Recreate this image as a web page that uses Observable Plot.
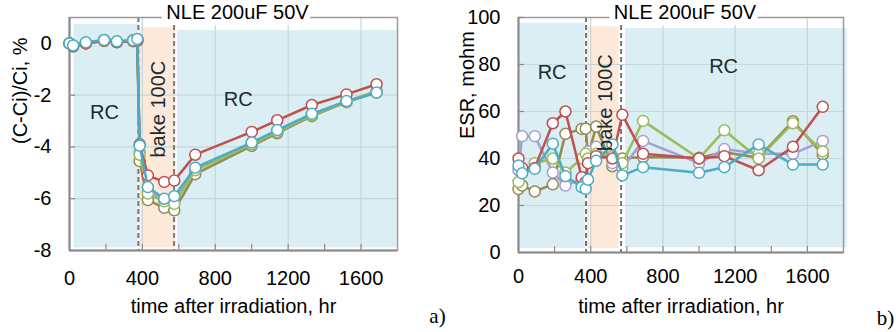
<!DOCTYPE html>
<html><head><meta charset="utf-8">
<script src="https://cdn.jsdelivr.net/npm/d3@7"></script>
<script src="https://cdn.jsdelivr.net/npm/@observablehq/plot@0.6"></script>
<style>
body{margin:0;background:#fff;}
#wrap{display:flex;width:896px;height:332px;overflow:hidden;}
#wrap svg{display:block;}
</style></head><body><div id="wrap"></div>
<script>
// ---- data ----
const hours = [0,20,90,190,260,350,372,385,430,520,575,690,1000,1140,1330,1520,1685];
const seriesNames = ["S1","S2","S3","S4","S5"];
const seriesColors = ["#c0504d","#9bbb59","#a59fd0","#4bacc6","#938953"];
const drawOrder = ["S5","S3","S2","S1","S4"];

// (C-Ci)/Ci, %
const capS1 = [0.0,-0.10,0.00,0.10,0.05,0.10,0.10,-3.90,-5.10,-5.35,-5.30,-4.30,-3.42,-2.97,-2.38,-1.97,-1.58];
const capS2 = [0.0,-0.10,0.02,0.12,0.06,0.12,0.15,-4.30,-5.80,-6.10,-6.20,-4.90,-3.90,-3.42,-2.78,-2.24,-1.85];
const capS3 = [0.0,-0.10,0.02,0.12,0.06,0.12,0.14,-4.20,-5.70,-6.05,-6.10,-4.85,-3.88,-3.40,-2.76,-2.24,-1.86];
const capS4 = [0.0,-0.08,0.04,0.13,0.08,0.12,0.17,-3.95,-5.55,-6.00,-5.90,-4.80,-3.83,-3.35,-2.72,-2.23,-1.90];
const capS5 = [0.0,-0.12,0.00,0.10,0.04,0.08,0.10,-4.55,-6.05,-6.35,-6.45,-5.05,-3.96,-3.47,-2.81,-2.27,-1.90];

// ESR, mohm
const esrS1 = [40,36,36,55,60,32,30,38,41,40,58.6,42,40,41,35,45,62];
const esrS2 = [30,34,38,40,34,40,42,40,42,41,38,56,40,52,40,55,43];
const esrS3 = [35,49.5,49.5,34,28.5,31.5,32,43,45,38,36,47.5,38,44,42,42,47.5];
const esrS4 = [37,33.7,35.6,46.3,32.5,27.8,27.1,31,39,46,32.8,36.3,33.9,36.3,46,37.4,37.4];
const esrS5 = [27,28.5,26,29,50.5,52.6,52.7,41,53.6,36.7,40,40.6,40.3,42.7,40.3,55.9,41.7];

// axes
const xTickLabels = [0,400,800,1200,1600];
const xMinorTicks = [200,400,600,800,1000,1200,1400,1600];
const capTicks = [0,-2,-4,-6,-8];
const capGrid = [-2,-4,-6];
const esrTicks = [0,20,40,60,80,100];
const esrGrid = [20,40,60,80];

// shaded regions: [x1,x2,y1,y2,kind]
const capRegions = [[25,378,-7.9,0.74,"RC"],[385,580,-7.9,0.6,"bake"],[592,1797,-7.9,0.5,"RC"]];
const esrRegions = [[5,370,1.7,97.6,"RC"],[382,558,1.7,96,"bake"],[592,1820,2,95.3,"RC"]];
const capDashes = [378,574];
const esrDashes = [374,568];
// annotations: [text, t, value, rotate]
const capNotes = [["RC",192,-2.69,0],["RC",926,-2.19,0],["bake 100C",488,-2.54,-90]];
const esrNotes = [["RC",186,76.7,0],["RC",1136,78.9,0],["bake 100C",481,63.8,-90]];

const title = "NLE 200uF 50V";
const xLabel = "time after irradiation, hr";

const FONT = "Liberation Sans, Arial, sans-serif";
const regionFill = {RC:"#daeef3", bake:"#fde9d9"};

function panel(o){
  const vals = o.values;
  const W = 448, H = 332, mt = 17;
  const innerW = W - o.ml - o.mr, innerH = H - mt - o.mb;
  const rows = [];
  seriesNames.forEach((s,i)=> vals[i].forEach((v,j)=> rows.push({s, t: hours[j], v})));
  const regions = o.regions.map(([x1,x2,y1,y2,k])=>({x1,x2,y1,y2,k}));
  const notes = o.notes.map(([text,t,v,r])=>({text,t,v,r}));
  const seriesMarks = drawOrder.flatMap(s=>{
    const d = rows.filter(r=>r.s===s);
    return [
      Plot.line(d,{x:"t",y:"v",stroke:"s",strokeWidth:2.5}),
      Plot.dot(d,{x:"t",y:"v",stroke:"s",fill:"white",r:5.5,strokeWidth:1.5})
    ];
  });
  return Plot.plot({
    width: W, height: H, marginLeft: o.ml, marginRight: o.mr, marginTop: mt, marginBottom: o.mb,
    style: {fontFamily: FONT, fontSize: "20px", color: "#000", background: "transparent", overflow: "visible"},
    x: {domain: [0,1800], axis: null},
    y: {domain: o.yDomain, axis: null},
    color: {domain: seriesNames, range: seriesColors},
    marks: [
      Plot.rect(regions, {x1:"x1",x2:"x2",y1:"y1",y2:"y2",fill:d=>regionFill[d.k]}),
      Plot.gridX([400,800,1200,1600], {stroke:"#c3d8de", strokeOpacity:1, strokeWidth:1.2}),
      Plot.gridY(o.yGrid, {stroke:"#c3d8de", strokeOpacity:1, strokeWidth:1.2}),
      Plot.ruleX(o.dashes, {stroke:"#777", strokeWidth:2, strokeDasharray:"5,3"}),
      Plot.frame({stroke:"#9a9a9a", strokeWidth:1.5}),
      Plot.ruleX([0], {stroke:"#8a8a8a", strokeWidth:2}),
      Plot.ruleY([o.yDomain[0]], {stroke:"#8a8a8a", strokeWidth:2}),
      Plot.ruleX(xMinorTicks, {stroke:"#8a8a8a", strokeWidth:1.2, insetTop: innerH - 6}),
      Plot.ruleY(o.yTicks, {stroke:"#8a8a8a", strokeWidth:1.2, insetRight: innerW - 6}),
      ...seriesMarks,
      Plot.text(notes, {x:"t", y:"v", text:"text", rotate:"r", fontSize:20, fill:"#1b2b31", fontFamily: FONT}),
      Plot.text([title], {frameAnchor:"top", text:d=>d, dx:4, dy:-4.5, lineAnchor:"middle", fontSize:20, fill:"#000", stroke:"white", strokeWidth:12, fontFamily: FONT}),
      Plot.axisX(xTickLabels, {tickSize:0, tickPadding:o.xPad, tickFormat:d=>String(d), fontSize:20, fill:"#000", label:null}),
      Plot.axisY(o.yTicks, {tickSize:0, tickPadding:18, tickFormat:d=>String(d), fontSize:20, fill:"#000", label:null}),
      Plot.text([xLabel], {frameAnchor:"bottom", text:d=>d, dy:o.xLabelDy, lineAnchor:"middle", fontSize:20, fill:"#000", fontFamily: FONT}),
      Plot.text([o.yLabel], {frameAnchor:"left", text:d=>d, dx:o.yLabelDx, dy:o.yLabelDy, rotate:-90, lineAnchor:"middle", fontSize:20, fill:"#000", fontFamily: FONT}),
      Plot.text([o.letter], {frameAnchor:"bottom-right", text:d=>d, dx:o.letterDx, dy:66, lineAnchor:"middle", textAnchor:"middle", fontSize:21, fill:"#000", fontFamily:"Liberation Serif, Times New Roman, serif"})
    ]
  });
}

const wrap = document.getElementById("wrap");
wrap.append(panel({
  values:[capS1,capS2,capS3,capS4,capS5], yDomain:[-8,1], yTicks:capTicks, yGrid:capGrid,
  regions:capRegions, dashes:capDashes, notes:capNotes, ml:69, mr:51, mb:82,
  xPad:20, xLabelDy:56, yLabel:"(C-Ci)/Ci, %", yLabelDx:-49, yLabelDy:10, letter:"a)", letterDx:40
}));
wrap.append(panel({
  values:[esrS1,esrS2,esrS3,esrS4,esrS5], yDomain:[0,100], yTicks:esrTicks, yGrid:esrGrid,
  regions:esrRegions, dashes:esrDashes, notes:esrNotes, ml:70, mr:53, mb:80,
  xPad:16, xLabelDy:54, yLabel:"ESR, mohm", yLabelDx:-51, yLabelDy:4, letter:"b)", letterDx:42
}));
</script></body></html>
